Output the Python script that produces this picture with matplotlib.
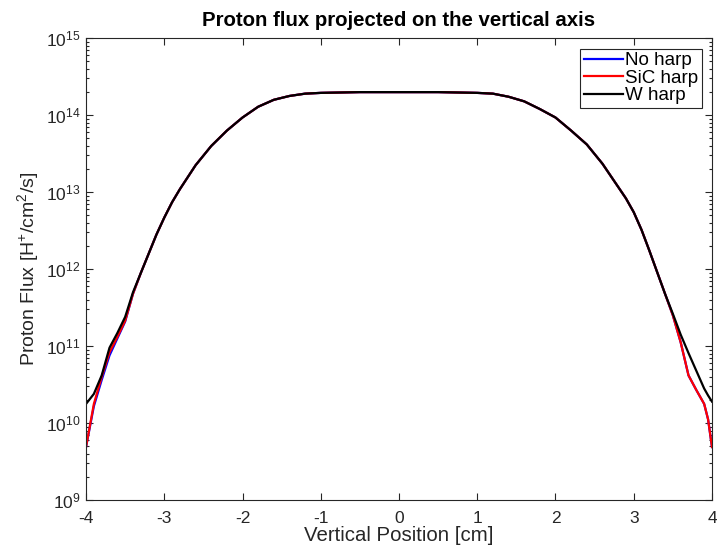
import numpy as np
import matplotlib
matplotlib.use('Agg')
import matplotlib.pyplot as plt
from matplotlib.ticker import LogLocator, NullFormatter

plt.rcParams['font.family'] = ['Liberation Sans', 'DejaVu Sans']
plt.rcParams['mathtext.fontset'] = 'custom'
plt.rcParams['mathtext.rm'] = 'Liberation Sans'
plt.rcParams['axes.unicode_minus'] = False

# vertical position [cm]
position = [-4.0, -3.9, -3.8, -3.7, -3.6, -3.5, -3.4, -3.3, -3.2, -3.1, -3.0, -2.9,
            -2.8, -2.6, -2.4, -2.2, -2.0, -1.8, -1.6, -1.4, -1.2, -1.0, -0.5,
            0.0, 0.5, 1.0, 1.2, 1.4, 1.6, 1.8, 2.0, 2.2, 2.4, 2.6, 2.8, 2.9, 3.0,
            3.1, 3.2, 3.3, 3.4, 3.5, 3.6, 3.7, 3.8, 3.9, 3.95, 4.0]

# log10 of proton flux [H+/cm2/s]
log_w_harp = [10.25, 10.38, 10.62, 10.98, 11.17, 11.38, 11.70, 11.95, 12.20, 12.45, 12.67, 12.87,
              13.04, 13.35, 13.60, 13.80, 13.97, 14.11, 14.20, 14.25, 14.28, 14.29, 14.30,
              14.30, 14.30, 14.29, 14.28, 14.24, 14.18, 14.08, 13.97, 13.80, 13.62, 13.37, 13.07, 12.92, 12.74,
              12.51, 12.24, 11.96, 11.68, 11.42, 11.15, 10.91, 10.68, 10.45, 10.36, 10.28]
log_sic_harp = [9.69, 10.25, 10.60, 10.92, 11.12, 11.33, 11.68, 11.95, 12.20, 12.45, 12.67, 12.87,
                13.04, 13.35, 13.60, 13.80, 13.97, 14.11, 14.20, 14.25, 14.28, 14.29, 14.30,
                14.30, 14.30, 14.29, 14.28, 14.24, 14.18, 14.08, 13.97, 13.80, 13.62, 13.37, 13.07, 12.92, 12.74,
                12.51, 12.24, 11.96, 11.68, 11.40, 11.05, 10.62, 10.43, 10.25, 10.05, 9.69]
log_no_harp = [9.69, 10.22, 10.56, 10.88, 11.10, 11.32, 11.68, 11.95, 12.20, 12.45, 12.67, 12.87,
               13.04, 13.35, 13.60, 13.80, 13.97, 14.11, 14.20, 14.25, 14.28, 14.29, 14.30,
               14.30, 14.30, 14.29, 14.28, 14.24, 14.18, 14.08, 13.97, 13.80, 13.62, 13.37, 13.07, 12.92, 12.74,
               12.51, 12.24, 11.96, 11.68, 11.40, 11.05, 10.62, 10.43, 10.25, 10.05, 9.69]

x = np.array(position)
TXT = '#262626'

fig = plt.figure(figsize=(7.17, 5.46), dpi=100)
ax = fig.add_axes([0.12, 0.084, 0.873, 0.846])

ax.semilogy(x, 10 ** np.array(log_no_harp), color='blue', lw=1.6, label='No harp')
ax.semilogy(x, 10 ** np.array(log_sic_harp), color='red', lw=1.6, label='SiC harp')
ax.semilogy(x, 10 ** np.array(log_w_harp), color='black', lw=1.6, label='W harp')

ax.set_xlim(-4, 4)
ax.set_ylim(1e9, 1e15)
ax.set_xticks(range(-4, 5))
ax.yaxis.set_major_locator(LogLocator(base=10, numticks=10))
ax.yaxis.set_minor_locator(LogLocator(base=10, subs=np.arange(2, 10), numticks=100))
ax.yaxis.set_minor_formatter(NullFormatter())

ax.tick_params(which='both', direction='in', top=True, right=True, colors=TXT,
               labelsize=12.5, width=0.8)
ax.tick_params(which='major', length=5)
ax.tick_params(which='minor', length=2.5)
ax.tick_params(axis='x', pad=8)
ax.tick_params(axis='y', pad=4)
for spine in ax.spines.values():
    spine.set_color(TXT)
    spine.set_linewidth(0.8)

ax.set_title('Proton flux projected on the vertical axis', fontsize=14.7,
             fontweight='bold', color='black', pad=9)
ax.set_xlabel('Vertical Position [cm]', fontsize=14.7, color=TXT, labelpad=0)
ax.set_ylabel('Proton Flux [H$^{+}$/cm$^{2}$/s]', fontsize=14, color=TXT, labelpad=3)

leg = ax.legend(loc='upper right', fontsize=13.5, fancybox=False, framealpha=1,
                edgecolor=TXT, borderpad=0.2, labelspacing=0.02, handlelength=2.1,
                handletextpad=0.1, borderaxespad=0.55)
leg.get_frame().set_linewidth(0.8)

fig.savefig('out.png', dpi=100)
